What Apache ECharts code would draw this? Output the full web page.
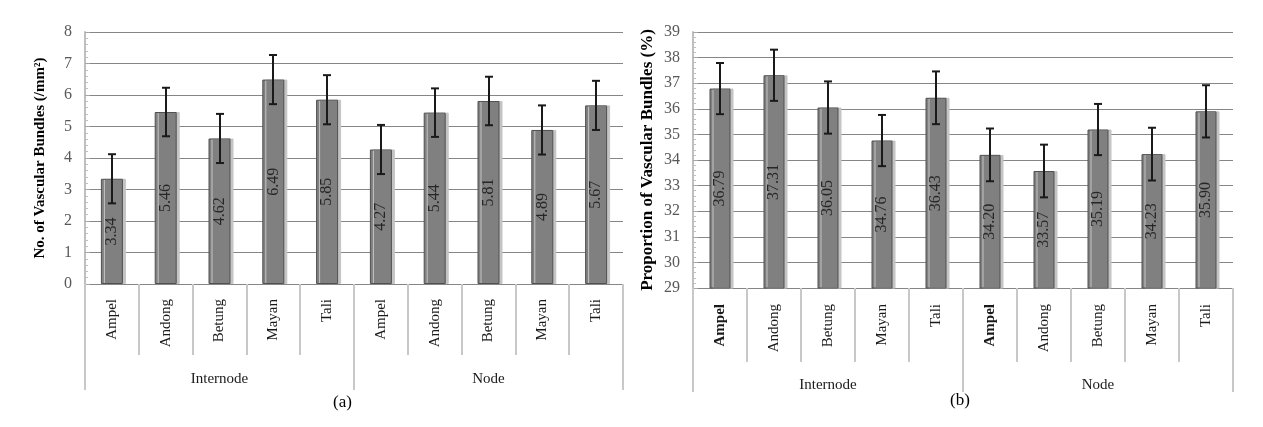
<!DOCTYPE html>
<html>
<head>
<meta charset="utf-8">
<script src="https://cdn.jsdelivr.net/npm/echarts@6/dist/echarts.min.js"></script>
<style>
  html, body { margin: 0; padding: 0; background: #fff; }
  #main { width: 1263px; height: 427px; }
</style>
</head>
<body>
<div id="main"></div>
<script>
var cultivars = ['Ampel', 'Andong', 'Betung', 'Mayan', 'Tali', 'Ampel', 'Andong', 'Betung', 'Mayan', 'Tali'];
var parts = ['Internode', 'Node'];
// (a) number of vascular bundles per mm2
var countVals = [3.34, 5.46, 4.62, 6.49, 5.85, 4.27, 5.44, 5.81, 4.89, 5.67];
var countErr = [0.78, 0.77, 0.78, 0.78, 0.78, 0.78, 0.77, 0.77, 0.78, 0.78];
// (b) proportion of vascular bundles (%)
var propVals = [36.79, 37.31, 36.05, 34.76, 36.43, 34.20, 33.57, 35.19, 34.23, 35.90];
var propErr = [1.0, 1.0, 1.02, 1.0, 1.03, 1.03, 1.03, 1.0, 1.03, 1.02];

var chart = echarts.init(document.getElementById('main'));
var serif = '"Liberation Serif", "DejaVu Serif", serif';

function errData(vals, errs) {
    var out = [];
    for (var i = 0; i < vals.length; i++) {
        out.push([i, vals[i] - errs[i], vals[i] + errs[i]]);
    }
    return out;
}

function errorBar(params, api) {
    var lo = api.coord([api.value(0), api.value(1)]);
    var hi = api.coord([api.value(0), api.value(2)]);
    var x = Math.round(lo[0]);
    var half = 4;
    var st = { stroke: '#1a1a1a', lineWidth: 2 };
    return {
        type: 'group',
        children: [
            { type: 'line', shape: { x1: x, y1: hi[1], x2: x, y2: lo[1] }, style: st },
            { type: 'line', shape: { x1: x - half, y1: hi[1], x2: x + half, y2: hi[1] }, style: st },
            { type: 'line', shape: { x1: x - half, y1: lo[1], x2: x + half, y2: lo[1] }, style: st }
        ]
    };
}

function yAxisOpt(gi, min, max, name, nameSize) {
    return {
        type: 'value', gridIndex: gi, min: min, max: max, interval: 1,
        name: name, nameLocation: 'middle', nameGap: 37,
        nameTextStyle: { fontFamily: serif, fontWeight: 'bold', fontSize: nameSize, color: '#000' },
        axisLine: { show: true, lineStyle: { color: '#bfbfbf', width: 2 } },
        axisTick: { show: true, inside: true, length: 5, lineStyle: { color: '#a6a6a6' } },
        minorTick: { show: true, splitNumber: 5, length: 3, lineStyle: { color: '#bfbfbf' } },
        axisLabel: { fontFamily: serif, fontSize: 16, color: '#595959', margin: 13 },
        splitLine: { show: true, lineStyle: { color: '#868686', width: 1 } }
    };
}

function catAxisOpt(gi, tickLen, margin, boldFirst) {
    return {
        type: 'category', gridIndex: gi, data: cultivars, position: 'bottom',
        axisLine: { show: false },
        axisTick: { show: true, interval: 0, length: tickLen, lineStyle: { color: '#c8c8c8', width: 2 } },
        axisLabel: {
            interval: 0, rotate: 90, margin: margin, fontFamily: serif, fontSize: 15, color: '#1a1a1a',
            formatter: function (v) { return boldFirst && v === 'Ampel' ? '{b|' + v + '}' : v; },
            rich: { b: { fontFamily: serif, fontSize: 15, fontWeight: 'bold', color: '#1a1a1a' } }
        }
    };
}

function groupAxisOpt(gi, tickLen, margin) {
    return {
        type: 'category', gridIndex: gi, data: parts, position: 'bottom',
        axisLine: { show: false },
        axisTick: { show: true, length: tickLen, lineStyle: { color: '#c8c8c8', width: 2 } },
        axisLabel: { margin: margin, fontFamily: serif, fontSize: 15, color: '#1a1a1a' }
    };
}

var barStyle = {
    color: '#808080',
    borderColor: '#505050',
    borderWidth: 1,
    shadowColor: '#c4c4c4',
    shadowOffsetX: 3,
    shadowBlur: 0
};

var barLabel = {
    show: true, position: 'inside', rotate: 90,
    fontFamily: serif, fontSize: 16, color: '#262626'
};

chart.setOption({
    animation: false,
    backgroundColor: '#fff',
    grid: [
        { left: 85, top: 32, width: 538, height: 252 },
        { left: 693, top: 32, width: 540, height: 256 }
    ],
    xAxis: [
        catAxisOpt(0, 71, 15, false),
        groupAxisOpt(0, 106, 88),
        catAxisOpt(1, 74, 16, true),
        groupAxisOpt(1, 104, 90)
    ],
    yAxis: [
        yAxisOpt(0, 0, 8, 'No. of Vascular Bundles (/mm²)', 15),
        yAxisOpt(1, 29, 39, 'Proportion of Vascular Bundles (%)', 17)
    ],
    series: [
        {
            type: 'bar', xAxisIndex: 0, yAxisIndex: 0, data: countVals, barWidth: 22,
            itemStyle: barStyle,
            label: Object.assign({}, barLabel, { formatter: function (p) { return p.value.toFixed(2); } })
        },
        {
            type: 'custom', xAxisIndex: 0, yAxisIndex: 0, renderItem: errorBar,
            data: errData(countVals, countErr), encode: { x: 0, y: [1, 2] }, z: 5
        },
        {
            type: 'bar', xAxisIndex: 2, yAxisIndex: 1, data: propVals, barWidth: 21,
            itemStyle: barStyle,
            label: Object.assign({}, barLabel, { formatter: function (p) { return p.value.toFixed(2); } })
        },
        {
            type: 'custom', xAxisIndex: 2, yAxisIndex: 1, renderItem: errorBar,
            data: errData(propVals, propErr), encode: { x: 0, y: [1, 2] }, z: 5
        }
    ],
    graphic: [
        { type: 'text', left: 333, top: 394, style: { text: '(a)', font: '17px ' + serif, fill: '#000' } },
        { type: 'text', left: 950, top: 392, style: { text: '(b)', font: '17px ' + serif, fill: '#000' } }
    ]
});
</script>
</body>
</html>
